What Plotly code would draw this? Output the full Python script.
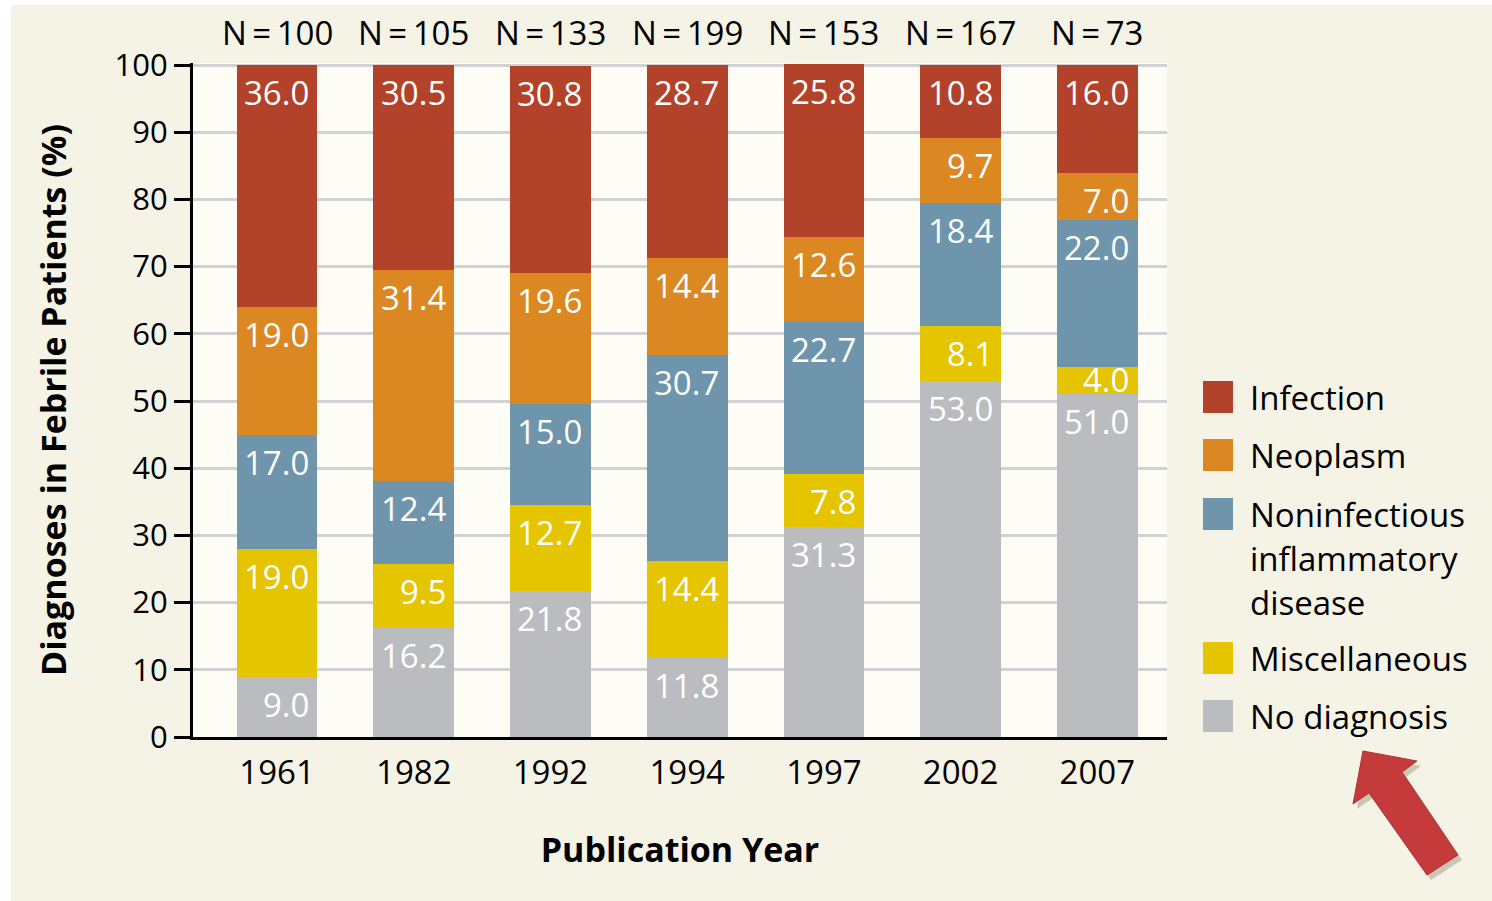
"""
Fever of unknown origin — diagnoses by publication year (stacked bars)
"""
import plotly.graph_objects as go

FONT = "Open Sans, sans-serif"

years = ["1961", "1982", "1992", "1994", "1997", "2002", "2007"]
n_patients = [100, 105, 133, 199, 153, 167, 73]

# bottom -> top
no_diagnosis = [9.0, 16.2, 21.8, 11.8, 31.3, 53.0, 51.0]
miscellaneous = [19.0, 9.5, 12.7, 14.4, 7.8, 8.1, 4.0]
noninfectious = [17.0, 12.4, 15.0, 30.7, 22.7, 18.4, 22.0]
neoplasm = [19.0, 31.4, 19.6, 14.4, 12.6, 9.7, 7.0]
infection = [36.0, 30.5, 30.8, 28.7, 25.8, 10.8, 16.0]

series = [
    ("No diagnosis", no_diagnosis, "#bbbcc0"),
    ("Miscellaneous", miscellaneous, "#e5c400"),
    ("Noninfectious inflammatory disease", noninfectious, "#6e95ab"),
    ("Neoplasm", neoplasm, "#db8822"),
    ("Infection", infection, "#b3422b"),
]
legend_lines = {
    "Infection": ["Infection"],
    "Neoplasm": ["Neoplasm"],
    "Noninfectious inflammatory disease": ["Noninfectious", "inflammatory", "disease"],
    "Miscellaneous": ["Miscellaneous"],
    "No diagnosis": ["No diagnosis"],
}

W, H = 1492, 901
L, R, T, B = 193, 1167, 63, 737


def px(x):
    return (x - L) / (R - L)


def py(y):
    return (B - y) / (B - T)


x_idx = list(range(len(years)))
fig = go.Figure()
shapes = [
    dict(type="rect", xref="paper", yref="paper", x0=px(11), x1=px(W + 5), y0=py(H + 5), y1=py(5),
         fillcolor="#f5f3e5", line_width=0, layer="below"),
    dict(type="rect", xref="paper", yref="paper", x0=0, x1=1, y0=0, y1=1,
         fillcolor="#fefdf5", line_width=0, layer="below"),
]
annotations = []

base = [0.0] * len(years)
for name, vals, color in series:
    fig.add_trace(go.Bar(
        x=x_idx, y=vals, name=name, marker_color=color, marker_line_width=0,
        width=0.59, showlegend=False, hoverinfo="y+name",
    ))
    for i, v in enumerate(vals):
        top = base[i] + v
        annotations.append(dict(
            x=i, y=top, xref="x", yref="y", text=f"{v:.1f}", showarrow=False,
            xanchor="right", yanchor="top", xshift=34, yshift=12 if v < 5 else -3,
            font=dict(size=33, color="white", family=FONT),
        ))
        base[i] = top

fig.update_layout(barmode="stack", bargap=0.41)

# N labels above bars
for i, n in enumerate(n_patients):
    annotations.append(dict(
        x=i, y=py(33), xref="x", yref="paper", text=f"N\u2009=\u2009{n}", showarrow=False,
        yanchor="middle", font=dict(size=33, color="black", family=FONT),
    ))

# custom legend
legend_top = [381, 439, 498, 642, 700]
for (name, vals, color), top in zip(reversed(series), legend_top):
    shapes.append(dict(type="rect", xref="paper", yref="paper",
                       x0=px(1203), x1=px(1233), y0=py(top + 32), y1=py(top),
                       fillcolor=color, line_width=0))
    for k, line in enumerate(legend_lines[name]):
        annotations.append(dict(
            x=px(1248), y=py(top + 16 + 44 * k), xref="paper", yref="paper",
            text=line, showarrow=False, xanchor="left", yanchor="middle",
            font=dict(size=33, color="black", family=FONT),
        ))

# red arrow pointing at "No diagnosis"
arrow = [(1363, 751), (1417, 761), (1402, 772), (1458, 855),
         (1427, 875), (1369, 793), (1353, 804)]


def arrow_path(pts, dx=0, dy=0):
    return "M" + " L".join(f"{px(x + dx):.5f},{py(y + dy):.5f}" for x, y in pts) + " Z"


shapes.append(dict(type="path", xref="paper", yref="paper", path=arrow_path(arrow, 4, 5),
                   fillcolor="rgba(80,60,40,0.25)", line_width=0))
shapes.append(dict(type="path", xref="paper", yref="paper", path=arrow_path(arrow),
                   fillcolor="#c53a3a", line=dict(color="#b03232", width=1)))

fig.update_layout(
    width=W, height=H,
    margin=dict(l=L, r=W - R, t=T, b=H - B),
    paper_bgcolor="white",
    plot_bgcolor="rgba(0,0,0,0)",
    font=dict(family=FONT, size=30, color="black"),
    showlegend=False,
    shapes=shapes,
    annotations=annotations,
    xaxis=dict(
        tickmode="array", tickvals=x_idx, ticktext=years,
        range=[-0.615, 6.51], showgrid=False, zeroline=False,
        showline=True, linecolor="black", linewidth=3,
        ticks="", ticklabelstandoff=4,
        tickfont=dict(size=33),
        title=dict(text="<b>Publication Year</b>", font=dict(size=34), standoff=46),
    ),
    yaxis=dict(
        range=[0, 100.3], tickvals=list(range(0, 101, 10)),
        showgrid=True, gridcolor="#d2d2d4", gridwidth=3, zeroline=False,
        showline=True, linecolor="black", linewidth=3,
        ticks="outside", ticklen=16, tickwidth=3, tickcolor="black",
        tickfont=dict(size=31),
        title=dict(text="<b>Diagnoses in Febrile Patients (%)</b>", font=dict(size=34), standoff=38),
    ),
)

# the page body has a default 8px margin; drop it so the figure fills the window
fig.write_html("out.html", config={"displayModeBar": False},
               post_script="document.body.style.margin = '0';")
